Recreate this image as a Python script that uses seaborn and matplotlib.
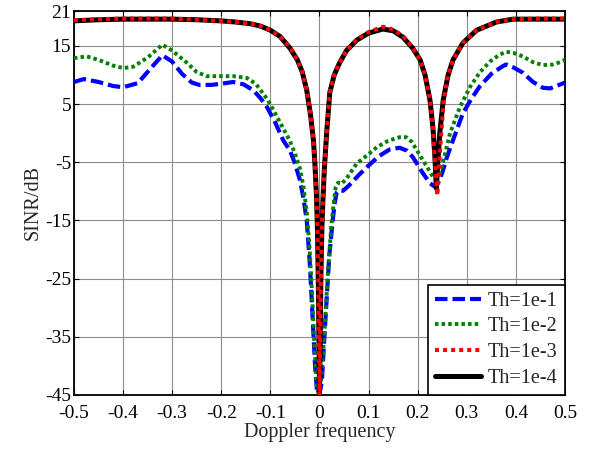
import numpy as np
import pandas as pd
import seaborn as sns
import matplotlib
matplotlib.use("Agg")
import matplotlib.pyplot as plt

# ---- data ----
x_th1 = [-0.5, -0.48, -0.45, -0.42, -0.4, -0.37, -0.34, -0.32, -0.3, -0.28, -0.26, -0.245, -0.22, -0.2,
         -0.176, -0.155, -0.135, -0.12, -0.107, -0.09, -0.074, -0.06, -0.05, -0.04, -0.033, -0.026, -0.02,
         -0.015, -0.009, -0.005, -0.002, 0.002, 0.005, 0.01, 0.015, 0.02, 0.027, 0.031, 0.035, 0.04, 0.048,
         0.06, 0.08, 0.097, 0.12, 0.143, 0.163, 0.178, 0.19, 0.21, 0.225, 0.235, 0.242, 0.25, 0.26, 0.272,
         0.292, 0.31, 0.326, 0.35, 0.373, 0.38, 0.395, 0.414, 0.435, 0.455, 0.47, 0.485, 0.5]
y_th1 = [8.8, 9.3, 8.8, 8.1, 7.9, 8.6, 11.5, 13.4, 12.3, 10.2, 8.7, 8.3, 8.3, 8.5,
         8.8, 8.4, 7.4, 6.0, 4.5, 1.8, -1.2, -3.0, -5.2, -8.0, -11.0, -15.0, -22.0,
         -30.0, -40.0, -44.5, -45.0, -44.0, -42.5, -35.0, -28.0, -21.0, -15.0, -12.0, -10.2, -9.8, -9.9,
         -9.0, -7.2, -5.8, -4.0, -2.8, -2.5, -3.0, -4.1, -6.8, -8.6, -9.2, -8.5, -6.8, -4.0, -1.2,
         3.4, 6.0, 8.0, 10.2, 11.5, 11.8, 11.3, 10.4, 8.8, 7.8, 7.7, 8.2, 8.7]

x_th2 = [-0.5, -0.474, -0.45, -0.42, -0.4, -0.38, -0.35, -0.32, -0.3, -0.27, -0.25, -0.23, -0.2, -0.176,
         -0.148, -0.13, -0.12, -0.106, -0.094, -0.075, -0.06, -0.05, -0.04, -0.033, -0.026, -0.02, -0.015,
         -0.01, -0.006, -0.003, 0.0, 0.004, 0.008, 0.013, 0.018, 0.024, 0.029, 0.033, 0.038, 0.045, 0.055,
         0.076, 0.1, 0.117, 0.14, 0.163, 0.177, 0.188, 0.198, 0.219, 0.231, 0.238, 0.245, 0.255, 0.266,
         0.286, 0.307, 0.327, 0.347, 0.365, 0.38, 0.395, 0.414, 0.435, 0.455, 0.475, 0.49, 0.5]
y_th2 = [12.9, 13.2, 12.6, 11.6, 11.2, 11.4, 13.0, 15.2, 14.2, 12.1, 10.5, 9.8, 9.8, 9.8,
         9.5, 8.5, 7.4, 5.8, 4.0, 1.0, -1.4, -3.5, -6.0, -9.0, -13.5, -20.0, -28.0,
         -37.0, -43.0, -44.5, -44.0, -42.0, -37.0, -30.0, -23.0, -16.0, -12.0, -9.3, -8.5, -8.7, -7.8,
         -5.2, -3.6, -2.4, -1.3, -0.7, -0.7, -1.5, -2.9, -5.8, -7.5, -7.9, -7.0, -3.8, 0.0,
         4.5, 8.0, 10.5, 12.3, 13.4, 14.0, 13.8, 13.2, 12.2, 11.7, 11.8, 12.2, 12.6]

x_th3 = [-0.5, -0.45, -0.4, -0.35, -0.3, -0.25, -0.2, -0.17, -0.14, -0.12, -0.1, -0.08, -0.06, -0.045,
         -0.035, -0.026, -0.018, -0.012, -0.009, -0.006, -0.004, -0.002, 0.0, 0.0015, 0.003, 0.005, 0.007,
         0.01, 0.015, 0.021, 0.03, 0.041, 0.055, 0.076, 0.1, 0.13, 0.15, 0.17, 0.19, 0.205, 0.215, 0.225,
         0.231, 0.235, 0.24, 0.244, 0.248, 0.253, 0.262, 0.272, 0.292, 0.32, 0.36, 0.394, 0.45, 0.5]
y_th3 = [19.4, 19.6, 19.7, 19.7, 19.7, 19.5, 19.3, 19.1, 18.8, 18.4, 17.7, 16.6, 14.8, 12.6,
         10.5, 7.4, 3.0, -1.5, -5.8, -11.0, -17.0, -28.0, -45.0, -35.0, -24.0, -16.0, -11.5,
         -6.0, 0.5, 7.0, 10.0, 12.1, 14.2, 16.1, 17.4, 18.3, 17.8, 16.7, 14.7, 12.6, 10.0, 5.7,
         1.0, -4.5, -10.7, -5.0, 0.0, 5.7, 10.0, 12.6, 15.5, 17.7, 19.1, 19.6, 19.7, 19.7]

x_th4 = [-0.5, -0.45, -0.4, -0.35, -0.3, -0.25, -0.2, -0.17, -0.14, -0.12, -0.1, -0.08, -0.06, -0.045,
         -0.035, -0.026, -0.018, -0.012, -0.009, -0.006, -0.004, -0.002, 0.0, 0.0015, 0.003, 0.005, 0.007,
         0.01, 0.015, 0.021, 0.03, 0.041, 0.055, 0.076, 0.1, 0.129, 0.15, 0.17, 0.19, 0.205, 0.215, 0.225,
         0.231, 0.235, 0.238, 0.241, 0.245, 0.252, 0.262, 0.272, 0.292, 0.32, 0.36, 0.394, 0.45, 0.5]
y_th4 = [19.3, 19.5, 19.6, 19.6, 19.6, 19.5, 19.3, 19.1, 18.8, 18.4, 17.7, 16.6, 14.6, 12.6,
         10.5, 7.4, 3.0, -1.5, -5.8, -11.0, -17.0, -28.0, -45.0, -35.0, -24.0, -16.0, -11.5,
         -6.0, 0.5, 7.0, 10.0, 12.1, 14.2, 16.0, 17.2, 17.9, 17.6, 16.5, 14.6, 12.6, 10.0, 5.7,
         1.0, -4.0, -9.5, -5.0, 0.0, 5.7, 10.0, 12.6, 15.5, 17.7, 19.1, 19.6, 19.6, 19.6]

labels = ["Th=1e-1", "Th=1e-2", "Th=1e-3", "Th=1e-4"]
x_ticks = [-0.5, -0.4, -0.3, -0.2, -0.1, 0, 0.1, 0.2, 0.3, 0.4, 0.5]
x_ticklabels = ["-0.5", "-0.4", "-0.3", "-0.2", "-0.1", "0", "0.1", "0.2", "0.3", "0.4", "0.5"]
y_ticks = [-45, -35, -25, -15, -5, 5, 15, 21]
y_ticklabels = ["-45", "-35", "-25", "-15", "-5", "5", "15", "21"]

# ---- plotting ----
sns.set_theme(style="white")
plt.rcParams['font.family'] = ['Liberation Serif', 'DejaVu Serif']
plt.rcParams['axes.unicode_minus'] = False

fig = plt.figure(figsize=(5.9, 4.51), dpi=100)
ax = fig.add_axes([0.1254, 0.1242, 0.8322, 0.8514])

series = [(x_th1, y_th1), (x_th2, y_th2), (x_th3, y_th3), (x_th4, y_th4)]
styles = [
    dict(color="#0000ff", lw=3.0, dashes=(3.0, 1.2), zorder=3),
    dict(color="#008000", lw=2.8, dashes=(0.9, 0.8), zorder=4),
    dict(color="#ff0000", lw=2.9, dashes=(1.0, 1.0), zorder=6),
    dict(color="#000000", lw=3.6, dashes=(None, None), zorder=5),
]
for (xs, ys), lab, st in zip(series, labels, styles):
    df = pd.DataFrame({"f": xs, "sinr": ys})
    sns.lineplot(data=df, x="f", y="sinr", ax=ax, label=lab, sort=False,
                 estimator=None, color=st["color"], linewidth=st["lw"], zorder=st["zorder"])
    ln = ax.lines[-1]
    if st["dashes"][0] is not None:
        ln.set_dashes(st["dashes"])
        ln.set_dash_capstyle("butt")

ax.set_xlim(-0.5, 0.5)
ax.set_ylim(-45, 21)
ax.set_xticks(x_ticks)
ax.set_xticklabels(x_ticklabels)
ax.set_yticks(y_ticks)
ax.set_yticklabels(y_ticklabels)
ax.grid(True, color="#8c8c8c", linewidth=0.8, linestyle="-")
ax.set_axisbelow(True)
for sp in ax.spines.values():
    sp.set_color("black")
    sp.set_linewidth(1.3)
    sp.set_visible(True)
ax.tick_params(direction="in", length=3.5, width=0.8, colors="black", labelsize=14,
               top=True, right=True, bottom=True, left=True)
ax.tick_params(axis="x", pad=7)
ax.tick_params(axis="y", pad=2)
ax.set_xlabel("Doppler frequency", fontsize=14.5, labelpad=0)
ax.set_ylabel("SINR/dB", fontsize=14.5, labelpad=2)

leg = ax.legend(loc="lower right", borderaxespad=0, fontsize=14.5, frameon=True,
                fancybox=False, handlelength=2.3, handletextpad=0.35, borderpad=0.35,
                labelspacing=0.33, handleheight=0.7)
leg.get_frame().set_edgecolor("black")
leg.get_frame().set_linewidth(1.2)
leg.get_frame().set_alpha(1.0)
for h, st in zip(leg.get_lines(), styles):
    if st["dashes"][0] is not None:
        h.set_dashes(st["dashes"])

fig.savefig("out.png", dpi=100, facecolor="white")
